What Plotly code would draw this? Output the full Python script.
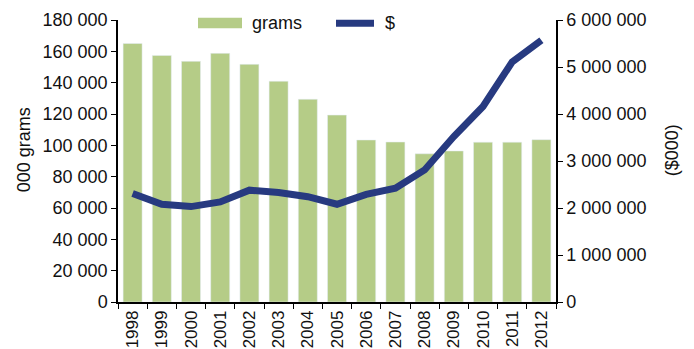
import plotly.graph_objects as go

years = [str(y) for y in range(1998, 2013)]
grams = [165000, 157400, 153600, 158700, 151700, 140900, 129400, 119300,
         103400, 102100, 94600, 96400, 102000, 102000, 103600]
dollars = [2310000, 2080000, 2030000, 2130000, 2380000, 2330000, 2240000, 2080000,
           2290000, 2420000, 2810000, 3520000, 4160000, 5110000, 5570000]

FONT = "Arial, Liberation Sans, sans-serif"
GREEN = "#B5CC87"
NAVY = "#273A80"

L, R, T, B = 118, 138, 19.5, 47
W, H = 694, 349
pw = W - L - R
ph = H - T - B

def px(x):
    return (x - L) / pw

def py(y):
    return (H - B - y) / ph

fig = go.Figure()
fig.add_trace(go.Bar(x=years, y=grams, name="grams", marker=dict(color=GREEN),
                     showlegend=False))
fig.add_trace(go.Scatter(x=years, y=dollars, name="$", yaxis="y2", mode="lines",
                         line=dict(color=NAVY, width=7), showlegend=False))

fig.update_layout(
    width=W, height=H,
    margin=dict(l=L, r=R, t=T, b=B, pad=0, autoexpand=False),
    paper_bgcolor="white", plot_bgcolor="white",
    font=dict(family=FONT, size=17, color="#111"),
    separators=". ",
    bargap=0.35,
    xaxis=dict(type="category", showline=True, linecolor="black", linewidth=1.5,
               ticks="outside", ticklen=5, tickcolor="black", tickson="boundaries",
               tickangle=-90, tickfont=dict(size=17), showgrid=False, zeroline=False,
               automargin=False),
    yaxis=dict(range=[0, 180000], dtick=20000, tickformat=",d", showline=True,
               linecolor="black", linewidth=1.5, ticks="outside", ticklen=5,
               tickcolor="black", showgrid=False, zeroline=False, tickfont=dict(size=18),
               automargin=False),
    yaxis2=dict(range=[0, 6000000], dtick=1000000, tickformat=",d", overlaying="y",
                side="right", showline=True, linecolor="black", linewidth=1.5,
                ticks="outside", ticklen=5, tickcolor="black", showgrid=False,
                zeroline=False, tickfont=dict(size=18), automargin=False),
)

# axis titles
fig.add_annotation(text="000 grams", xref="paper", yref="paper", x=px(24), y=py(150),
                   textangle=-90, showarrow=False, font=dict(size=18),
                   xanchor="center", yanchor="middle")
fig.add_annotation(text="($000)", xref="paper", yref="paper", x=px(672), y=py(150),
                   textangle=-90, showarrow=False, font=dict(size=18),
                   xanchor="center", yanchor="middle")

# legend
fig.add_shape(type="rect", xref="paper", yref="paper", x0=px(198), x1=px(242),
              y0=py(27.7), y1=py(17.3), fillcolor=GREEN, line=dict(width=0))
fig.add_annotation(text="grams", xref="paper", yref="paper", x=px(250), y=py(22.5),
                   showarrow=False, xanchor="left", yanchor="middle", font=dict(size=18))
fig.add_shape(type="line", xref="paper", yref="paper", x0=px(336), x1=px(374),
              y0=py(22.7), y1=py(22.7), line=dict(color=NAVY, width=7))
fig.add_annotation(text="$", xref="paper", yref="paper", x=px(383), y=py(22.5),
                   showarrow=False, xanchor="left", yanchor="middle", font=dict(size=18))

fig.write_html("out.html", config={"displayModeBar": False},
               post_script="document.body.style.margin='0';document.body.style.overflow='hidden';")
